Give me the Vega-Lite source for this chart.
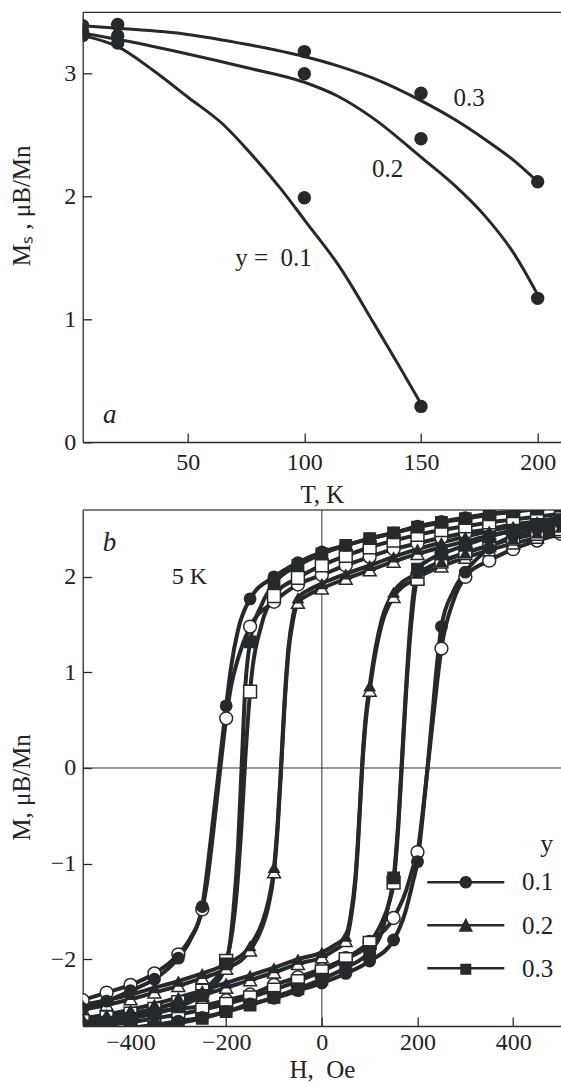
{
  "$schema": "https://vega.github.io/schema/vega-lite/v6.json",
  "autosize": {"type": "none"},
  "padding": {"left": 82.7, "top": 12.3, "right": 478.3, "bottom": 1070.7},
  "background": "white",
  "bounds": "flush",
  "spacing": 67.7,
  "config": {
    "view": {"stroke": null},
    "font": "Liberation Serif",
    "axis": {
      "grid": false,
      "domainColor": "#2b2b2b",
      "domainWidth": 1.3,
      "tickColor": "#2b2b2b",
      "tickWidth": 1.3,
      "tickSize": -9,
      "labelFont": "Liberation Serif",
      "labelFontSize": 24,
      "labelColor": "#222222",
      "labelOverlap": false,
      "labelFlush": false,
      "titleFont": "Liberation Serif",
      "titleFontSize": 25,
      "titleFontWeight": "normal",
      "titleColor": "#222222"
    }
  },
  "datasets": {
    "curvesA": [
      {"y": "0.1", "T": 5, "M": 3.31}, {"y": "0.1", "T": 20, "M": 3.22}, {"y": "0.1", "T": 35, "M": 3.03}, {"y": "0.1", "T": 50, "M": 2.81},
      {"y": "0.1", "T": 65, "M": 2.59}, {"y": "0.1", "T": 77, "M": 2.35}, {"y": "0.1", "T": 90, "M": 2.06}, {"y": "0.1", "T": 100, "M": 1.81},
      {"y": "0.1", "T": 115, "M": 1.43}, {"y": "0.1", "T": 130, "M": 0.96}, {"y": "0.1", "T": 140, "M": 0.64}, {"y": "0.1", "T": 150, "M": 0.31},
      {"y": "0.2", "T": 5, "M": 3.33}, {"y": "0.2", "T": 20, "M": 3.28}, {"y": "0.2", "T": 50, "M": 3.16}, {"y": "0.2", "T": 75, "M": 3.05},
      {"y": "0.2", "T": 100, "M": 2.93}, {"y": "0.2", "T": 114, "M": 2.82}, {"y": "0.2", "T": 130, "M": 2.63}, {"y": "0.2", "T": 150, "M": 2.32},
      {"y": "0.2", "T": 165, "M": 2.08}, {"y": "0.2", "T": 177, "M": 1.85}, {"y": "0.2", "T": 190, "M": 1.53}, {"y": "0.2", "T": 200, "M": 1.2},
      {"y": "0.3", "T": 5, "M": 3.39}, {"y": "0.3", "T": 20, "M": 3.37}, {"y": "0.3", "T": 50, "M": 3.32}, {"y": "0.3", "T": 75, "M": 3.24},
      {"y": "0.3", "T": 100, "M": 3.14}, {"y": "0.3", "T": 115, "M": 3.06}, {"y": "0.3", "T": 130, "M": 2.96}, {"y": "0.3", "T": 150, "M": 2.78},
      {"y": "0.3", "T": 165, "M": 2.62}, {"y": "0.3", "T": 177, "M": 2.47}, {"y": "0.3", "T": 190, "M": 2.29}, {"y": "0.3", "T": 200, "M": 2.12}
    ],
    "pointsA": [
      {"y": "0.1", "T": 5, "M": 3.31}, {"y": "0.1", "T": 20, "M": 3.25}, {"y": "0.1", "T": 100, "M": 1.99}, {"y": "0.1", "T": 150, "M": 0.29},
      {"y": "0.2", "T": 5, "M": 3.34}, {"y": "0.2", "T": 20, "M": 3.31}, {"y": "0.2", "T": 100, "M": 3.0}, {"y": "0.2", "T": 150, "M": 2.47}, {"y": "0.2", "T": 200, "M": 1.17},
      {"y": "0.3", "T": 5, "M": 3.39}, {"y": "0.3", "T": 20, "M": 3.4}, {"y": "0.3", "T": 100, "M": 3.18}, {"y": "0.3", "T": 150, "M": 2.84}, {"y": "0.3", "T": 200, "M": 2.12}
    ],
    "curvesB": [
      {"y":"0.1","set":"filled","b":"d","H":500,"M":2.75},{"y":"0.1","set":"filled","b":"d","H":450,"M":2.72},{"y":"0.1","set":"filled","b":"d","H":400,"M":2.69},{"y":"0.1","set":"filled","b":"d","H":350,"M":2.66},
      {"y":"0.1","set":"filled","b":"d","H":300,"M":2.62},{"y":"0.1","set":"filled","b":"d","H":250,"M":2.58},{"y":"0.1","set":"filled","b":"d","H":200,"M":2.53},{"y":"0.1","set":"filled","b":"d","H":150,"M":2.46},
      {"y":"0.1","set":"filled","b":"d","H":100,"M":2.40},{"y":"0.1","set":"filled","b":"d","H":50,"M":2.33},{"y":"0.1","set":"filled","b":"d","H":0,"M":2.26},{"y":"0.1","set":"filled","b":"d","H":-50,"M":2.15},
      {"y":"0.1","set":"filled","b":"d","H":-100,"M":2.00},{"y":"0.1","set":"filled","b":"d","H":-150,"M":1.77},{"y":"0.1","set":"filled","b":"d","H":-175,"M":1.45},{"y":"0.1","set":"filled","b":"d","H":-190,"M":1.05},
      {"y":"0.1","set":"filled","b":"d","H":-200,"M":0.65},{"y":"0.1","set":"filled","b":"d","H":-210,"M":0.22},{"y":"0.1","set":"filled","b":"d","H":-220,"M":-0.22},{"y":"0.1","set":"filled","b":"d","H":-230,"M":-0.65},
      {"y":"0.1","set":"filled","b":"d","H":-240,"M":-1.08},{"y":"0.1","set":"filled","b":"d","H":-250,"M":-1.45},{"y":"0.1","set":"filled","b":"d","H":-275,"M":-1.80},{"y":"0.1","set":"filled","b":"d","H":-300,"M":-1.99},
      {"y":"0.1","set":"filled","b":"d","H":-350,"M":-2.21},{"y":"0.1","set":"filled","b":"d","H":-400,"M":-2.33},{"y":"0.1","set":"filled","b":"d","H":-450,"M":-2.44},{"y":"0.1","set":"filled","b":"d","H":-500,"M":-2.52},

      {"y":"0.1","set":"filled","b":"u","H":-500,"M":-2.78},{"y":"0.1","set":"filled","b":"u","H":-450,"M":-2.75},{"y":"0.1","set":"filled","b":"u","H":-400,"M":-2.72},{"y":"0.1","set":"filled","b":"u","H":-350,"M":-2.69},
      {"y":"0.1","set":"filled","b":"u","H":-300,"M":-2.65},{"y":"0.1","set":"filled","b":"u","H":-250,"M":-2.61},{"y":"0.1","set":"filled","b":"u","H":-200,"M":-2.55},{"y":"0.1","set":"filled","b":"u","H":-150,"M":-2.47},
      {"y":"0.1","set":"filled","b":"u","H":-100,"M":-2.41},{"y":"0.1","set":"filled","b":"u","H":-50,"M":-2.33},{"y":"0.1","set":"filled","b":"u","H":0,"M":-2.25},{"y":"0.1","set":"filled","b":"u","H":50,"M":-2.15},
      {"y":"0.1","set":"filled","b":"u","H":100,"M":-2.02},{"y":"0.1","set":"filled","b":"u","H":150,"M":-1.80},{"y":"0.1","set":"filled","b":"u","H":175,"M":-1.50},{"y":"0.1","set":"filled","b":"u","H":190,"M":-1.20},
      {"y":"0.1","set":"filled","b":"u","H":200,"M":-0.98},{"y":"0.1","set":"filled","b":"u","H":210,"M":-0.55},{"y":"0.1","set":"filled","b":"u","H":220,"M":-0.05},{"y":"0.1","set":"filled","b":"u","H":230,"M":0.5},
      {"y":"0.1","set":"filled","b":"u","H":240,"M":1.05},{"y":"0.1","set":"filled","b":"u","H":250,"M":1.48},{"y":"0.1","set":"filled","b":"u","H":275,"M":1.85},{"y":"0.1","set":"filled","b":"u","H":300,"M":2.05},
      {"y":"0.1","set":"filled","b":"u","H":350,"M":2.30},{"y":"0.1","set":"filled","b":"u","H":400,"M":2.43},{"y":"0.1","set":"filled","b":"u","H":450,"M":2.50},{"y":"0.1","set":"filled","b":"u","H":500,"M":2.56},

      {"y":"0.1","set":"open","b":"d","H":500,"M":2.62},{"y":"0.1","set":"open","b":"d","H":450,"M":2.58},{"y":"0.1","set":"open","b":"d","H":400,"M":2.55},{"y":"0.1","set":"open","b":"d","H":350,"M":2.50},
      {"y":"0.1","set":"open","b":"d","H":300,"M":2.46},{"y":"0.1","set":"open","b":"d","H":250,"M":2.41},{"y":"0.1","set":"open","b":"d","H":200,"M":2.35},{"y":"0.1","set":"open","b":"d","H":150,"M":2.29},
      {"y":"0.1","set":"open","b":"d","H":100,"M":2.21},{"y":"0.1","set":"open","b":"d","H":50,"M":2.12},{"y":"0.1","set":"open","b":"d","H":0,"M":2.02},{"y":"0.1","set":"open","b":"d","H":-50,"M":1.92},
      {"y":"0.1","set":"open","b":"d","H":-100,"M":1.74},{"y":"0.1","set":"open","b":"d","H":-150,"M":1.48},{"y":"0.1","set":"open","b":"d","H":-175,"M":1.15},{"y":"0.1","set":"open","b":"d","H":-190,"M":0.85},
      {"y":"0.1","set":"open","b":"d","H":-200,"M":0.52},{"y":"0.1","set":"open","b":"d","H":-210,"M":0.1},{"y":"0.1","set":"open","b":"d","H":-220,"M":-0.35},{"y":"0.1","set":"open","b":"d","H":-230,"M":-0.8},
      {"y":"0.1","set":"open","b":"d","H":-240,"M":-1.2},{"y":"0.1","set":"open","b":"d","H":-250,"M":-1.48},{"y":"0.1","set":"open","b":"d","H":-275,"M":-1.78},{"y":"0.1","set":"open","b":"d","H":-300,"M":-1.95},
      {"y":"0.1","set":"open","b":"d","H":-350,"M":-2.15},{"y":"0.1","set":"open","b":"d","H":-400,"M":-2.27},{"y":"0.1","set":"open","b":"d","H":-450,"M":-2.35},{"y":"0.1","set":"open","b":"d","H":-500,"M":-2.43},

      {"y":"0.1","set":"open","b":"u","H":-500,"M":-2.66},{"y":"0.1","set":"open","b":"u","H":-450,"M":-2.62},{"y":"0.1","set":"open","b":"u","H":-400,"M":-2.58},{"y":"0.1","set":"open","b":"u","H":-350,"M":-2.55},
      {"y":"0.1","set":"open","b":"u","H":-300,"M":-2.52},{"y":"0.1","set":"open","b":"u","H":-250,"M":-2.49},{"y":"0.1","set":"open","b":"u","H":-200,"M":-2.43},{"y":"0.1","set":"open","b":"u","H":-150,"M":-2.37},
      {"y":"0.1","set":"open","b":"u","H":-100,"M":-2.27},{"y":"0.1","set":"open","b":"u","H":-50,"M":-2.19},{"y":"0.1","set":"open","b":"u","H":0,"M":-2.10},{"y":"0.1","set":"open","b":"u","H":50,"M":-1.99},
      {"y":"0.1","set":"open","b":"u","H":100,"M":-1.82},{"y":"0.1","set":"open","b":"u","H":150,"M":-1.57},{"y":"0.1","set":"open","b":"u","H":175,"M":-1.30},{"y":"0.1","set":"open","b":"u","H":190,"M":-1.05},
      {"y":"0.1","set":"open","b":"u","H":200,"M":-0.88},{"y":"0.1","set":"open","b":"u","H":210,"M":-0.5},{"y":"0.1","set":"open","b":"u","H":220,"M":-0.05},{"y":"0.1","set":"open","b":"u","H":230,"M":0.4},
      {"y":"0.1","set":"open","b":"u","H":240,"M":0.85},{"y":"0.1","set":"open","b":"u","H":250,"M":1.25},{"y":"0.1","set":"open","b":"u","H":275,"M":1.75},{"y":"0.1","set":"open","b":"u","H":300,"M":2.0},
      {"y":"0.1","set":"open","b":"u","H":350,"M":2.17},{"y":"0.1","set":"open","b":"u","H":400,"M":2.29},{"y":"0.1","set":"open","b":"u","H":450,"M":2.38},{"y":"0.1","set":"open","b":"u","H":500,"M":2.45},

      {"y":"0.2","set":"filled","b":"d","H":500,"M":2.62},{"y":"0.2","set":"filled","b":"d","H":450,"M":2.58},{"y":"0.2","set":"filled","b":"d","H":400,"M":2.53},{"y":"0.2","set":"filled","b":"d","H":350,"M":2.48},
      {"y":"0.2","set":"filled","b":"d","H":300,"M":2.42},{"y":"0.2","set":"filled","b":"d","H":250,"M":2.36},{"y":"0.2","set":"filled","b":"d","H":200,"M":2.29},{"y":"0.2","set":"filled","b":"d","H":150,"M":2.21},
      {"y":"0.2","set":"filled","b":"d","H":100,"M":2.12},{"y":"0.2","set":"filled","b":"d","H":50,"M":2.03},{"y":"0.2","set":"filled","b":"d","H":0,"M":1.93},{"y":"0.2","set":"filled","b":"d","H":-25,"M":1.87},
      {"y":"0.2","set":"filled","b":"d","H":-50,"M":1.78},{"y":"0.2","set":"filled","b":"d","H":-60,"M":1.6},{"y":"0.2","set":"filled","b":"d","H":-70,"M":1.25},{"y":"0.2","set":"filled","b":"d","H":-78,"M":0.7},
      {"y":"0.2","set":"filled","b":"d","H":-85,"M":0.05},{"y":"0.2","set":"filled","b":"d","H":-92,"M":-0.55},{"y":"0.2","set":"filled","b":"d","H":-100,"M":-1.04},{"y":"0.2","set":"filled","b":"d","H":-112,"M":-1.40},
      {"y":"0.2","set":"filled","b":"d","H":-125,"M":-1.62},{"y":"0.2","set":"filled","b":"d","H":-150,"M":-1.86},{"y":"0.2","set":"filled","b":"d","H":-200,"M":-2.05},{"y":"0.2","set":"filled","b":"d","H":-250,"M":-2.15},
      {"y":"0.2","set":"filled","b":"d","H":-300,"M":-2.23},{"y":"0.2","set":"filled","b":"d","H":-350,"M":-2.30},{"y":"0.2","set":"filled","b":"d","H":-400,"M":-2.37},{"y":"0.2","set":"filled","b":"d","H":-450,"M":-2.43},
      {"y":"0.2","set":"filled","b":"d","H":-500,"M":-2.48},

      {"y":"0.2","set":"filled","b":"u","H":-500,"M":-2.62},{"y":"0.2","set":"filled","b":"u","H":-450,"M":-2.58},{"y":"0.2","set":"filled","b":"u","H":-400,"M":-2.53},{"y":"0.2","set":"filled","b":"u","H":-350,"M":-2.47},
      {"y":"0.2","set":"filled","b":"u","H":-300,"M":-2.40},{"y":"0.2","set":"filled","b":"u","H":-250,"M":-2.33},{"y":"0.2","set":"filled","b":"u","H":-200,"M":-2.25},{"y":"0.2","set":"filled","b":"u","H":-150,"M":-2.17},
      {"y":"0.2","set":"filled","b":"u","H":-100,"M":-2.09},{"y":"0.2","set":"filled","b":"u","H":-50,"M":-2.00},{"y":"0.2","set":"filled","b":"u","H":0,"M":-1.93},{"y":"0.2","set":"filled","b":"u","H":25,"M":-1.86},
      {"y":"0.2","set":"filled","b":"u","H":50,"M":-1.76},{"y":"0.2","set":"filled","b":"u","H":60,"M":-1.55},{"y":"0.2","set":"filled","b":"u","H":70,"M":-1.15},{"y":"0.2","set":"filled","b":"u","H":75,"M":-0.8},
      {"y":"0.2","set":"filled","b":"u","H":80,"M":-0.35},{"y":"0.2","set":"filled","b":"u","H":85,"M":0.1},{"y":"0.2","set":"filled","b":"u","H":92,"M":0.55},{"y":"0.2","set":"filled","b":"u","H":100,"M":0.86},
      {"y":"0.2","set":"filled","b":"u","H":112,"M":1.25},{"y":"0.2","set":"filled","b":"u","H":125,"M":1.55},{"y":"0.2","set":"filled","b":"u","H":150,"M":1.84},{"y":"0.2","set":"filled","b":"u","H":200,"M":2.04},
      {"y":"0.2","set":"filled","b":"u","H":250,"M":2.16},{"y":"0.2","set":"filled","b":"u","H":300,"M":2.25},{"y":"0.2","set":"filled","b":"u","H":350,"M":2.33},{"y":"0.2","set":"filled","b":"u","H":400,"M":2.40},
      {"y":"0.2","set":"filled","b":"u","H":450,"M":2.46},{"y":"0.2","set":"filled","b":"u","H":500,"M":2.52},

      {"y":"0.2","set":"open","b":"d","H":500,"M":2.57},{"y":"0.2","set":"open","b":"d","H":450,"M":2.53},{"y":"0.2","set":"open","b":"d","H":400,"M":2.48},{"y":"0.2","set":"open","b":"d","H":350,"M":2.43},
      {"y":"0.2","set":"open","b":"d","H":300,"M":2.37},{"y":"0.2","set":"open","b":"d","H":250,"M":2.31},{"y":"0.2","set":"open","b":"d","H":200,"M":2.24},{"y":"0.2","set":"open","b":"d","H":150,"M":2.16},
      {"y":"0.2","set":"open","b":"d","H":100,"M":2.07},{"y":"0.2","set":"open","b":"d","H":50,"M":1.98},{"y":"0.2","set":"open","b":"d","H":0,"M":1.88},{"y":"0.2","set":"open","b":"d","H":-25,"M":1.82},
      {"y":"0.2","set":"open","b":"d","H":-50,"M":1.73},{"y":"0.2","set":"open","b":"d","H":-60,"M":1.55},{"y":"0.2","set":"open","b":"d","H":-70,"M":1.2},{"y":"0.2","set":"open","b":"d","H":-78,"M":0.65},
      {"y":"0.2","set":"open","b":"d","H":-85,"M":0.0},{"y":"0.2","set":"open","b":"d","H":-92,"M":-0.6},{"y":"0.2","set":"open","b":"d","H":-100,"M":-1.09},{"y":"0.2","set":"open","b":"d","H":-112,"M":-1.45},
      {"y":"0.2","set":"open","b":"d","H":-125,"M":-1.67},{"y":"0.2","set":"open","b":"d","H":-150,"M":-1.91},{"y":"0.2","set":"open","b":"d","H":-200,"M":-2.10},{"y":"0.2","set":"open","b":"d","H":-250,"M":-2.20},
      {"y":"0.2","set":"open","b":"d","H":-300,"M":-2.28},{"y":"0.2","set":"open","b":"d","H":-350,"M":-2.35},{"y":"0.2","set":"open","b":"d","H":-400,"M":-2.42},{"y":"0.2","set":"open","b":"d","H":-450,"M":-2.48},
      {"y":"0.2","set":"open","b":"d","H":-500,"M":-2.53},

      {"y":"0.2","set":"open","b":"u","H":-500,"M":-2.67},{"y":"0.2","set":"open","b":"u","H":-450,"M":-2.63},{"y":"0.2","set":"open","b":"u","H":-400,"M":-2.58},{"y":"0.2","set":"open","b":"u","H":-350,"M":-2.52},
      {"y":"0.2","set":"open","b":"u","H":-300,"M":-2.45},{"y":"0.2","set":"open","b":"u","H":-250,"M":-2.38},{"y":"0.2","set":"open","b":"u","H":-200,"M":-2.30},{"y":"0.2","set":"open","b":"u","H":-150,"M":-2.22},
      {"y":"0.2","set":"open","b":"u","H":-100,"M":-2.14},{"y":"0.2","set":"open","b":"u","H":-50,"M":-2.05},{"y":"0.2","set":"open","b":"u","H":0,"M":-1.98},{"y":"0.2","set":"open","b":"u","H":25,"M":-1.91},
      {"y":"0.2","set":"open","b":"u","H":50,"M":-1.81},{"y":"0.2","set":"open","b":"u","H":60,"M":-1.6},{"y":"0.2","set":"open","b":"u","H":70,"M":-1.2},{"y":"0.2","set":"open","b":"u","H":75,"M":-0.85},
      {"y":"0.2","set":"open","b":"u","H":80,"M":-0.4},{"y":"0.2","set":"open","b":"u","H":85,"M":0.05},{"y":"0.2","set":"open","b":"u","H":92,"M":0.5},{"y":"0.2","set":"open","b":"u","H":100,"M":0.81},
      {"y":"0.2","set":"open","b":"u","H":112,"M":1.2},{"y":"0.2","set":"open","b":"u","H":125,"M":1.5},{"y":"0.2","set":"open","b":"u","H":150,"M":1.79},{"y":"0.2","set":"open","b":"u","H":200,"M":1.99},
      {"y":"0.2","set":"open","b":"u","H":250,"M":2.11},{"y":"0.2","set":"open","b":"u","H":300,"M":2.20},{"y":"0.2","set":"open","b":"u","H":350,"M":2.28},{"y":"0.2","set":"open","b":"u","H":400,"M":2.35},
      {"y":"0.2","set":"open","b":"u","H":450,"M":2.41},{"y":"0.2","set":"open","b":"u","H":500,"M":2.47},

      {"y":"0.3","set":"filled","b":"d","H":500,"M":2.74},{"y":"0.3","set":"filled","b":"d","H":450,"M":2.71},{"y":"0.3","set":"filled","b":"d","H":400,"M":2.68},{"y":"0.3","set":"filled","b":"d","H":350,"M":2.65},
      {"y":"0.3","set":"filled","b":"d","H":300,"M":2.61},{"y":"0.3","set":"filled","b":"d","H":250,"M":2.57},{"y":"0.3","set":"filled","b":"d","H":200,"M":2.52},{"y":"0.3","set":"filled","b":"d","H":150,"M":2.46},
      {"y":"0.3","set":"filled","b":"d","H":100,"M":2.40},{"y":"0.3","set":"filled","b":"d","H":50,"M":2.33},{"y":"0.3","set":"filled","b":"d","H":0,"M":2.24},{"y":"0.3","set":"filled","b":"d","H":-50,"M":2.12},
      {"y":"0.3","set":"filled","b":"d","H":-100,"M":1.93},{"y":"0.3","set":"filled","b":"d","H":-125,"M":1.72},{"y":"0.3","set":"filled","b":"d","H":-150,"M":1.32},{"y":"0.3","set":"filled","b":"d","H":-160,"M":0.85},
      {"y":"0.3","set":"filled","b":"d","H":-167,"M":0.1},{"y":"0.3","set":"filled","b":"d","H":-175,"M":-0.8},{"y":"0.3","set":"filled","b":"d","H":-185,"M":-1.5},{"y":"0.3","set":"filled","b":"d","H":-200,"M":-2.05},
      {"y":"0.3","set":"filled","b":"d","H":-225,"M":-2.28},{"y":"0.3","set":"filled","b":"d","H":-250,"M":-2.38},{"y":"0.3","set":"filled","b":"d","H":-300,"M":-2.5},{"y":"0.3","set":"filled","b":"d","H":-350,"M":-2.57},
      {"y":"0.3","set":"filled","b":"d","H":-400,"M":-2.62},{"y":"0.3","set":"filled","b":"d","H":-450,"M":-2.66},{"y":"0.3","set":"filled","b":"d","H":-500,"M":-2.70},

      {"y":"0.3","set":"filled","b":"u","H":-500,"M":-2.8},{"y":"0.3","set":"filled","b":"u","H":-450,"M":-2.77},{"y":"0.3","set":"filled","b":"u","H":-400,"M":-2.74},{"y":"0.3","set":"filled","b":"u","H":-350,"M":-2.71},
      {"y":"0.3","set":"filled","b":"u","H":-300,"M":-2.67},{"y":"0.3","set":"filled","b":"u","H":-250,"M":-2.62},{"y":"0.3","set":"filled","b":"u","H":-200,"M":-2.55},{"y":"0.3","set":"filled","b":"u","H":-150,"M":-2.48},
      {"y":"0.3","set":"filled","b":"u","H":-100,"M":-2.40},{"y":"0.3","set":"filled","b":"u","H":-50,"M":-2.31},{"y":"0.3","set":"filled","b":"u","H":0,"M":-2.21},{"y":"0.3","set":"filled","b":"u","H":50,"M":-2.09},
      {"y":"0.3","set":"filled","b":"u","H":100,"M":-1.92},{"y":"0.3","set":"filled","b":"u","H":125,"M":-1.72},{"y":"0.3","set":"filled","b":"u","H":140,"M":-1.42},{"y":"0.3","set":"filled","b":"u","H":150,"M":-1.15},
      {"y":"0.3","set":"filled","b":"u","H":160,"M":-0.55},{"y":"0.3","set":"filled","b":"u","H":167,"M":0.05},{"y":"0.3","set":"filled","b":"u","H":175,"M":0.75},{"y":"0.3","set":"filled","b":"u","H":185,"M":1.5},
      {"y":"0.3","set":"filled","b":"u","H":200,"M":2.08},{"y":"0.3","set":"filled","b":"u","H":225,"M":2.18},{"y":"0.3","set":"filled","b":"u","H":250,"M":2.24},{"y":"0.3","set":"filled","b":"u","H":300,"M":2.33},
      {"y":"0.3","set":"filled","b":"u","H":350,"M":2.42},{"y":"0.3","set":"filled","b":"u","H":400,"M":2.49},{"y":"0.3","set":"filled","b":"u","H":450,"M":2.55},{"y":"0.3","set":"filled","b":"u","H":500,"M":2.6},

      {"y":"0.3","set":"open","b":"d","H":500,"M":2.66},{"y":"0.3","set":"open","b":"d","H":450,"M":2.63},{"y":"0.3","set":"open","b":"d","H":400,"M":2.60},{"y":"0.3","set":"open","b":"d","H":350,"M":2.57},
      {"y":"0.3","set":"open","b":"d","H":300,"M":2.53},{"y":"0.3","set":"open","b":"d","H":250,"M":2.49},{"y":"0.3","set":"open","b":"d","H":200,"M":2.44},{"y":"0.3","set":"open","b":"d","H":150,"M":2.38},
      {"y":"0.3","set":"open","b":"d","H":100,"M":2.31},{"y":"0.3","set":"open","b":"d","H":50,"M":2.22},{"y":"0.3","set":"open","b":"d","H":0,"M":2.12},{"y":"0.3","set":"open","b":"d","H":-50,"M":1.99},
      {"y":"0.3","set":"open","b":"d","H":-100,"M":1.80},{"y":"0.3","set":"open","b":"d","H":-125,"M":1.52},{"y":"0.3","set":"open","b":"d","H":-150,"M":0.80},{"y":"0.3","set":"open","b":"d","H":-160,"M":0.1},
      {"y":"0.3","set":"open","b":"d","H":-168,"M":-0.6},{"y":"0.3","set":"open","b":"d","H":-178,"M":-1.3},{"y":"0.3","set":"open","b":"d","H":-190,"M":-1.8},{"y":"0.3","set":"open","b":"d","H":-200,"M":-2.02},
      {"y":"0.3","set":"open","b":"d","H":-225,"M":-2.22},{"y":"0.3","set":"open","b":"d","H":-250,"M":-2.33},{"y":"0.3","set":"open","b":"d","H":-300,"M":-2.45},{"y":"0.3","set":"open","b":"d","H":-350,"M":-2.52},
      {"y":"0.3","set":"open","b":"d","H":-400,"M":-2.57},{"y":"0.3","set":"open","b":"d","H":-450,"M":-2.61},{"y":"0.3","set":"open","b":"d","H":-500,"M":-2.65},

      {"y":"0.3","set":"open","b":"u","H":-500,"M":-2.72},{"y":"0.3","set":"open","b":"u","H":-450,"M":-2.69},{"y":"0.3","set":"open","b":"u","H":-400,"M":-2.66},{"y":"0.3","set":"open","b":"u","H":-350,"M":-2.62},
      {"y":"0.3","set":"open","b":"u","H":-300,"M":-2.58},{"y":"0.3","set":"open","b":"u","H":-250,"M":-2.53},{"y":"0.3","set":"open","b":"u","H":-200,"M":-2.47},{"y":"0.3","set":"open","b":"u","H":-150,"M":-2.40},
      {"y":"0.3","set":"open","b":"u","H":-100,"M":-2.32},{"y":"0.3","set":"open","b":"u","H":-50,"M":-2.23},{"y":"0.3","set":"open","b":"u","H":0,"M":-2.13},{"y":"0.3","set":"open","b":"u","H":50,"M":-2.0},
      {"y":"0.3","set":"open","b":"u","H":100,"M":-1.83},{"y":"0.3","set":"open","b":"u","H":125,"M":-1.62},{"y":"0.3","set":"open","b":"u","H":140,"M":-1.42},{"y":"0.3","set":"open","b":"u","H":150,"M":-1.2},
      {"y":"0.3","set":"open","b":"u","H":160,"M":-0.6},{"y":"0.3","set":"open","b":"u","H":167,"M":0.0},{"y":"0.3","set":"open","b":"u","H":175,"M":0.7},{"y":"0.3","set":"open","b":"u","H":185,"M":1.4},
      {"y":"0.3","set":"open","b":"u","H":200,"M":1.98},{"y":"0.3","set":"open","b":"u","H":225,"M":2.1},{"y":"0.3","set":"open","b":"u","H":250,"M":2.16},{"y":"0.3","set":"open","b":"u","H":300,"M":2.25},
      {"y":"0.3","set":"open","b":"u","H":350,"M":2.33},{"y":"0.3","set":"open","b":"u","H":400,"M":2.40},{"y":"0.3","set":"open","b":"u","H":450,"M":2.45},{"y":"0.3","set":"open","b":"u","H":500,"M":2.5}
    ]
  },
  "vconcat": [
    {
      "width": 478.3,
      "height": 429.7,
      "layer": [
        {
          "data": {"name": "curvesA"},
          "mark": {"type": "line", "interpolate": "monotone", "strokeWidth": 3, "color": "#25292b", "clip": true},
          "encoding": {
            "x": {"field": "T", "type": "quantitative", "scale": {"domain": [5, 210], "nice": false, "zero": false},
              "axis": {"values": [50, 100, 150, 200], "format": "d", "title": "T, K", "labelBaseline": "alphabetic", "labelPadding": 36, "titleBaseline": "alphabetic", "titleY": 60}},
            "y": {"field": "M", "type": "quantitative", "scale": {"domain": [0, 3.5], "nice": false},
              "axis": {"values": [0, 1, 2, 3], "format": "d", "title": "Mₛ , μB/Mn", "labelPadding": 16, "titleAngle": -90, "titleBaseline": "alphabetic", "titleAlign": "center", "titleX": -53, "titleY": 193}},
            "detail": {"field": "y", "type": "nominal"}
          }
        },
        {
          "data": {"values": [{}]},
          "mark": {"type": "rule", "color": "#2b2b2b", "strokeWidth": 1.3},
          "encoding": {"y": {"datum": 3.5, "type": "quantitative", "scale": {"domain": [0, 3.5], "nice": false}}}
        },
        {
          "data": {"name": "pointsA"},
          "mark": {"type": "circle", "size": 180, "color": "#25292b", "opacity": 1, "clip": true},
          "encoding": {
            "x": {"field": "T", "type": "quantitative", "scale": {"domain": [5, 210], "nice": false, "zero": false}},
            "y": {"field": "M", "type": "quantitative", "scale": {"domain": [0, 3.5], "nice": false}}
          }
        },
        {
          "data": {"values": [{"T": 170.6, "M": 2.8, "label": "0.3"}, {"T": 135.7, "M": 2.22, "label": "0.2"}, {"T": 86.8, "M": 1.5, "label": "y =\u00a0 0.1"}]},
          "mark": {"type": "text", "font": "Liberation Serif", "fontSize": 25, "color": "#222222"},
          "encoding": {
            "x": {"field": "T", "type": "quantitative", "scale": {"domain": [5, 210], "nice": false, "zero": false}},
            "y": {"field": "M", "type": "quantitative", "scale": {"domain": [0, 3.5], "nice": false}},
            "text": {"field": "label"}
          }
        },
        {
          "data": {"values": [{"T": 16.6, "M": 0.22, "label": "a"}]},
          "mark": {"type": "text", "font": "Liberation Serif", "fontSize": 27, "fontStyle": "italic", "color": "#222222"},
          "encoding": {
            "x": {"field": "T", "type": "quantitative", "scale": {"domain": [5, 210], "nice": false, "zero": false}},
            "y": {"field": "M", "type": "quantitative", "scale": {"domain": [0, 3.5], "nice": false}},
            "text": {"field": "label"}
          }
        }
      ]
    },
    {
      "width": 478.3,
      "height": 516,
      "resolve": {"scale": {"shape": "independent", "strokeDash": "independent"}},
      "layer": [
        {
          "data": {"name": "curvesB"},
          "mark": {"type": "line", "interpolate": "monotone", "strokeWidth": 4, "color": "#25292b", "clip": true},
          "encoding": {
            "x": {"field": "H", "type": "quantitative", "scale": {"domain": [-500, 500], "nice": false},
              "axis": {"values": [-400, -200, 0, 200, 400], "format": "d", "title": "H,\u00a0 Oe", "labelBaseline": "alphabetic", "labelPadding": 33, "titleBaseline": "alphabetic", "titleY": 52}},
            "y": {"field": "M", "type": "quantitative", "scale": {"domain": [-2.7, 2.7], "nice": false},
              "axis": {"values": [-2, -1, 0, 1, 2], "format": "d", "title": "M, μB/Mn", "labelPadding": 16, "titleAngle": -90, "titleBaseline": "alphabetic", "titleAlign": "center", "titleX": -53, "titleY": 277}},
            "detail": [{"field": "y", "type": "nominal"}, {"field": "set", "type": "nominal"}, {"field": "b", "type": "nominal"}]
          }
        },
        {
          "data": {"values": [{}]},
          "mark": {"type": "rule", "color": "#555555", "strokeWidth": 1.6},
          "encoding": {"y": {"datum": 2.7, "type": "quantitative", "scale": {"domain": [-2.7, 2.7], "nice": false}}}
        },
        {
          "data": {"values": [{}]},
          "mark": {"type": "rule", "color": "#333333", "strokeWidth": 1},
          "encoding": {"y": {"datum": 0, "type": "quantitative", "scale": {"domain": [-2.7, 2.7], "nice": false}}}
        },
        {
          "data": {"values": [{}]},
          "mark": {"type": "rule", "color": "#333333", "strokeWidth": 1},
          "encoding": {"x": {"datum": 0, "type": "quantitative", "scale": {"domain": [-500, 500], "nice": false}}}
        },
        {
          "data": {"name": "curvesB"},
          "transform": [{"filter": "datum.set === 'open' && datum.H % 50 === 0"}],
          "mark": {"type": "point", "filled": true, "fill": "white", "stroke": "#25292b", "strokeWidth": 1.5, "size": 165, "opacity": 1, "clip": true},
          "encoding": {
            "x": {"field": "H", "type": "quantitative", "scale": {"domain": [-500, 500], "nice": false}},
            "y": {"field": "M", "type": "quantitative", "scale": {"domain": [-2.7, 2.7], "nice": false}},
            "shape": {"field": "y", "type": "nominal", "scale": {"domain": ["0.1", "0.2", "0.3"], "range": ["circle", "triangle-up", "square"]}, "legend": null}
          }
        },
        {
          "data": {"name": "curvesB"},
          "transform": [{"filter": "datum.set === 'filled' && datum.H % 50 === 0"}],
          "mark": {"type": "point", "filled": true, "color": "#25292b", "size": 165, "opacity": 1, "clip": true},
          "encoding": {
            "x": {"field": "H", "type": "quantitative", "scale": {"domain": [-500, 500], "nice": false}},
            "y": {"field": "M", "type": "quantitative", "scale": {"domain": [-2.7, 2.7], "nice": false}},
            "shape": {"field": "y", "type": "nominal", "scale": {"domain": ["0.1", "0.2", "0.3"], "range": ["circle", "triangle-up", "square"]}, "legend": null}
          }
        },
        {
          "data": {"values": [{"H": -277, "M": 2.0, "label": "5 K"}]},
          "mark": {"type": "text", "font": "Liberation Serif", "fontSize": 24, "color": "#222222"},
          "encoding": {
            "x": {"field": "H", "type": "quantitative", "scale": {"domain": [-500, 500], "nice": false}},
            "y": {"field": "M", "type": "quantitative", "scale": {"domain": [-2.7, 2.7], "nice": false}},
            "text": {"field": "label"}
          }
        },
        {
          "data": {"values": [{"H": -444, "M": 2.35, "label": "b"}]},
          "mark": {"type": "text", "font": "Liberation Serif", "fontSize": 27, "fontStyle": "italic", "color": "#222222"},
          "encoding": {
            "x": {"field": "H", "type": "quantitative", "scale": {"domain": [-500, 500], "nice": false}},
            "y": {"field": "M", "type": "quantitative", "scale": {"domain": [-2.7, 2.7], "nice": false}},
            "text": {"field": "label"}
          }
        },
        {
          "data": {"values": [{"y": "0.1", "H": 0, "M": 0}, {"y": "0.2", "H": 0, "M": 0}, {"y": "0.3", "H": 0, "M": 0}]},
          "transform": [{"filter": "false"}],
          "mark": {"type": "line", "color": "#25292b", "strokeWidth": 2.5, "opacity": 1},
          "encoding": {
            "x": {"field": "H", "type": "quantitative", "scale": {"domain": [-500, 500], "nice": false}},
            "y": {"field": "M", "type": "quantitative", "scale": {"domain": [-2.7, 2.7], "nice": false}},
            "strokeDash": {
              "field": "y", "type": "nominal",
              "scale": {"domain": ["0.1", "0.2", "0.3"], "range": [[1, 0], [1, 0], [1, 0]]},
              "legend": {
                "orient": "none", "legendX": 370.6, "legendY": 320.7,
                "title": "\u00a0", "titleFont": "Liberation Serif", "titleFontSize": 26, "titleFontWeight": "normal", "titleAnchor": "end", "titlePadding": 13,
                "labelExpr": "'\u00a0'", "labelFont": "Liberation Serif", "labelFontSize": 25, "labelOffset": 43.7,
                "symbolType": "M-3.85,0H3.85", "symbolSize": 400, "rowPadding": 17, "padding": 0,
                "symbolStrokeColor": "#25292b", "symbolStrokeWidth": 2.5, "symbolOpacity": 1
              }
            }
          }
        },
        {
          "data": {"values": [{"y": "0.1"}, {"y": "0.2"}, {"y": "0.3"}]},
          "transform": [{"filter": "false"}],
          "mark": {"type": "point", "filled": false, "fill": "#25292b", "stroke": "#25292b", "strokeWidth": 2.5, "opacity": 1},
          "encoding": {
            "shape": {
              "field": "y", "type": "nominal",
              "scale": {"domain": ["0.1", "0.2", "0.3"], "range": [
                "M-3.85,0H3.85M-0.62,0A0.62,0.62,0,1,1,0.62,0A0.62,0.62,0,1,1,-0.62,0Z",
                "M-3.85,0H3.85M0,-0.85L0.72,0.55L-0.72,0.55Z",
                "M-3.85,0H3.85M-0.55,-0.55H0.55V0.55H-0.55Z"
              ]},
              "legend": {
                "orient": "none", "legendX": 370.6, "legendY": 320.7,
                "title": "y", "titleFont": "Liberation Serif", "titleFontSize": 26, "titleFontWeight": "normal", "titleColor": "#222222", "titleAnchor": "end", "titlePadding": 13,
                "labelFont": "Liberation Serif", "labelFontSize": 25, "labelColor": "#222222", "labelOffset": 43.7,
                "symbolSize": 400, "rowPadding": 17, "padding": 0,
                "symbolFillColor": "#25292b", "symbolStrokeColor": "#25292b", "symbolStrokeWidth": 2.5, "symbolOpacity": 1,
                "encode": {"symbols": {"fill": {"value": "#25292b"}, "stroke": {"value": "#25292b"}, "strokeWidth": {"value": 2.5}, "opacity": {"value": 1}}}
              }
            }
          }
        }
      ]
    }
  ]
}
